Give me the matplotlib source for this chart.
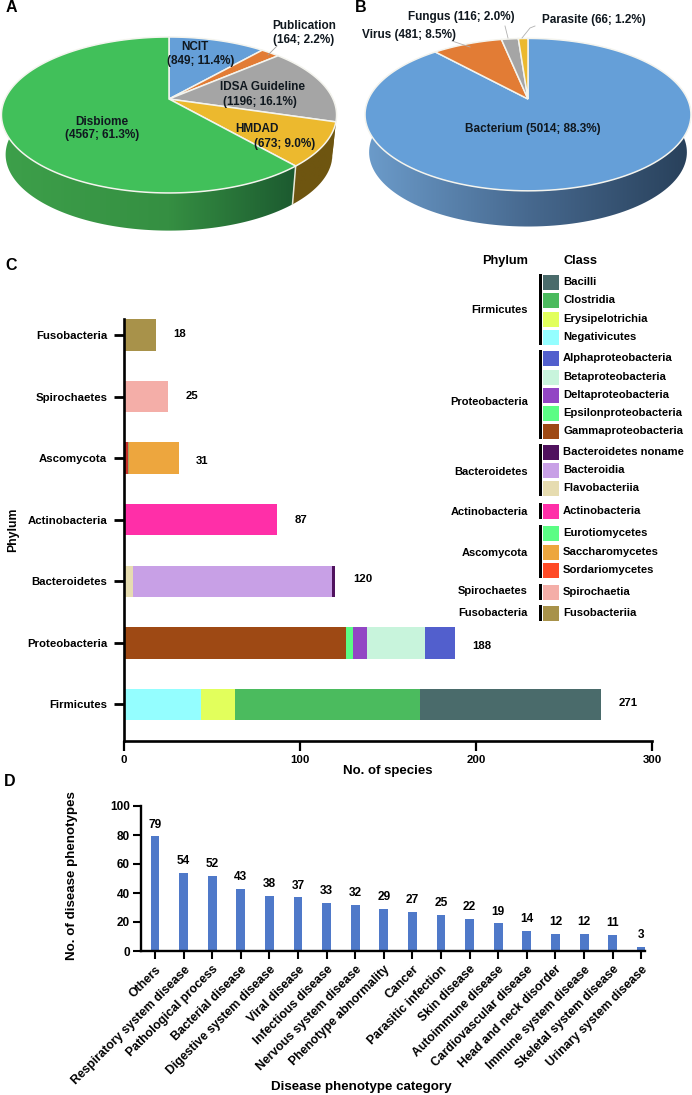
import numpy as np
import matplotlib
matplotlib.use("Agg")
import matplotlib.pyplot as plt
from matplotlib.colors import LinearSegmentedColormap
from matplotlib.patches import Polygon, Rectangle

plt.rcParams["font.family"] = ["Liberation Sans", "DejaVu Sans"]
plt.rcParams["font.weight"] = "bold"

# panel A
source_names = ["NCIT", "Publication", "IDSA Guideline", "HMDAD", "Disbiome"]
source_values = [849, 164, 1196, 673, 4567]
# panel B
pathogen_names = ["Bacterium", "Virus", "Fungus", "Parasite"]
pathogen_values = [5014, 481, 116, 66]

# panel C, one list per phylum, left to right
phyla = ["Firmicutes", "Proteobacteria", "Bacteroidetes", "Actinobacteria",
         "Ascomycota", "Spirochaetes", "Fusobacteria"]
phylum_totals = [271, 188, 120, 87, 31, 25, 18]
firmicutes = [("Negativicutes", 44), ("Erysipelotrichia", 19), ("Clostridia", 105), ("Bacilli", 103)]
proteobacteria = [("Gammaproteobacteria", 126), ("Epsilonproteobacteria", 4), ("Deltaproteobacteria", 8),
                  ("Betaproteobacteria", 33), ("Alphaproteobacteria", 17)]
bacteroidetes = [("Flavobacteriia", 5), ("Bacteroidia", 113), ("Bacteroidetes noname", 2)]
actinobacteria = [("Actinobacteria", 87)]
ascomycota = [("Sordariomycetes", 2), ("Eurotiomycetes", 1), ("Saccharomycetes", 28)]
spirochaetes = [("Spirochaetia", 25)]
fusobacteria = [("Fusobacteriia", 18)]
stacks = [firmicutes, proteobacteria, bacteroidetes, actinobacteria, ascomycota, spirochaetes, fusobacteria]

class_colors = {
    "Bacilli": "#4a6b6b", "Clostridia": "#4bbb5e", "Erysipelotrichia": "#e2ff5c", "Negativicutes": "#94feff",
    "Alphaproteobacteria": "#525fcd", "Betaproteobacteria": "#c8f4dc", "Deltaproteobacteria": "#9246c4",
    "Epsilonproteobacteria": "#5bfd85", "Gammaproteobacteria": "#9e4914", "Bacteroidetes noname": "#50125e",
    "Bacteroidia": "#c8a0e6", "Flavobacteriia": "#e6dcb0", "Actinobacteria": "#ff2fa8",
    "Eurotiomycetes": "#a8a060", "Saccharomycetes": "#eda63e", "Sordariomycetes": "#c8302a",
    "Spirochaetia": "#f4aea8", "Fusobacteriia": "#a8924a",
}
legend_swatch_override = {"Eurotiomycetes": "#5bfd85", "Sordariomycetes": "#ff4a26"}

# legend, top to bottom
legend_groups = [
    ("Firmicutes", ["Bacilli", "Clostridia", "Erysipelotrichia", "Negativicutes"]),
    ("Proteobacteria", ["Alphaproteobacteria", "Betaproteobacteria", "Deltaproteobacteria",
                        "Epsilonproteobacteria", "Gammaproteobacteria"]),
    ("Bacteroidetes", ["Bacteroidetes noname", "Bacteroidia", "Flavobacteriia"]),
    ("Actinobacteria", ["Actinobacteria"]),
    ("Ascomycota", ["Eurotiomycetes", "Saccharomycetes", "Sordariomycetes"]),
    ("Spirochaetes", ["Spirochaetia"]),
    ("Fusobacteria", ["Fusobacteriia"]),
]

# panel D
disease_names = ["Others", "Respiratory system disease", "Pathological process", "Bacterial disease",
                 "Digestive system disease", "Viral disease", "Infectious disease", "Nervous system disease",
                 "Phenotype abnormality", "Cancer", "Parasitic infection", "Skin disease", "Autoimmune disease",
                 "Cardiovascular disease", "Head and neck disorder", "Immune system disease",
                 "Skeletal system disease", "Urinary system disease"]
disease_counts = [79, 54, 52, 43, 38, 37, 33, 32, 29, 27, 25, 22, 19, 14, 12, 12, 11, 3]

W, H = 692, 1095
fig = plt.figure(figsize=(W / 100, H / 100), dpi=100)
page = fig.add_axes([0, 0, 1, 1], zorder=5)
page.set_xlim(0, W)
page.set_ylim(H, 0)
page.axis("off")


def axes_px(left, top, right, bottom):
    return fig.add_axes([left / W, 1 - bottom / H, (right - left) / W, (bottom - top) / H])


def project(theta, cx, cy, c, a, k=0.205, scale=1.0, drop=0):
    # tilted disc: theta runs clockwise from twelve o'clock
    xx, yy = np.sin(theta), np.cos(theta)
    w = 1 + k * yy
    return cx + scale * c * xx / w, cy - scale * a * yy / w + drop


def pie3d(values, colors, side_ramps, cx, cy, c, a, drop, scale):
    edges = 2 * np.pi * np.concatenate([[0], np.cumsum(values)]) / np.sum(values)
    # side wall first
    xs_all = project(np.linspace(0, 2 * np.pi, 400), cx, cy, c, a)[0]
    for i in range(len(values)):
        t0, t1 = max(edges[i], np.pi / 2 - 0.25), min(edges[i + 1], 3 * np.pi / 2 + 0.25)
        if t1 <= t0:
            continue
        t = np.linspace(t0, t1, 120)
        x1, y1 = project(t, cx, cy, c, a)
        x2, y2 = project(t, cx, cy, c, a, scale=scale, drop=drop)
        wall = Polygon(np.r_[np.c_[x1, y1], np.c_[x2, y2][::-1]], closed=True, fc="none", ec="none")
        page.add_patch(wall)
        ramp = LinearSegmentedColormap.from_list("side", side_ramps[i])
        im = page.imshow(np.linspace(0, 1, 256)[None, :], cmap=ramp, aspect="auto",
                         extent=[xs_all.min(), xs_all.max(), cy + 150, cy - 80], zorder=1)
        im.set_clip_path(wall)
        # light seam between the wall pieces
        if 0.75 * np.pi < edges[i + 1] < 3 * np.pi / 2:
            page.plot([x1[-1], x2[-1]], [y1[-1], y2[-1]], color="#e8e8d8", lw=1.1, zorder=2)
    page.set_xlim(0, W)
    page.set_ylim(H, 0)
    # top face
    for i in range(len(values)):
        t = np.linspace(edges[i], edges[i + 1], 160)
        x, y = project(t, cx, cy, c, a)
        page.add_patch(Polygon(np.r_[[[cx, cy]], np.c_[x, y]], closed=True, fc=colors[i],
                               ec="#f4f4ee", lw=1.1, zorder=3))


# panel A
pie3d(source_values, ["#659fd8", "#e27c35", "#a5a5a5", "#ecb92e", "#41c05a"],
      [["#6e5510", "#6e5510"], ["#6e5510", "#6e5510"], ["#6e5510", "#6e5510"],
       ["#6e5510", "#6e5510"], ["#3da04a", "#358f42", "#14492a"]],
      169, 99, 164, 74.7, 40, 0.975)
# panel B
pie3d(pathogen_values, ["#659fd8", "#e27c35", "#a5a5a5", "#ecb92e"],
      [["#6c9ccb", "#47698f", "#28405a"], ["#28405a", "#28405a"], ["#28405a", "#28405a"], ["#28405a", "#28405a"]],
      528, 99, 159.5, 73, 38, 0.975)

ptxt = dict(fontsize=8.5, color="#10181f", ha="center", va="center", zorder=6)
total_a = sum(source_values)
page.text(195, 47, f"{source_names[0]}", **ptxt)
page.text(201, 61, f"({source_values[0]}; {100 * source_values[0] / total_a:.1f}%)", **ptxt)
page.text(304, 26, source_names[1], **ptxt)
page.text(304, 40, f"({source_values[1]}; {100 * source_values[1] / total_a:.1f}%)", **ptxt)
page.text(263, 87, source_names[2], **ptxt)
page.text(260, 102, f"({source_values[2]}; {100 * source_values[2] / total_a:.1f}%)", **ptxt)
page.text(257, 129, source_names[3], **ptxt)
page.text(285, 144, f"({source_values[3]}; {100 * source_values[3] / total_a:.1f}%)", **ptxt)
page.text(102, 122, source_names[4], **ptxt)
page.text(102, 135, f"({source_values[4]}; {100 * source_values[4] / total_a:.1f}%)", **ptxt)
page.plot([268, 277], [55, 46], color="#a0a0a0", lw=0.6, zorder=4)

total_b = sum(pathogen_values)
pct_b = [100 * v / total_b for v in pathogen_values]
page.text(533, 129, f"{pathogen_names[0]} ({pathogen_values[0]}; {pct_b[0]:.1f}%)", **ptxt)
page.text(409, 35, f"{pathogen_names[1]} ({pathogen_values[1]}; {pct_b[1]:.1f}%)", **ptxt)
page.text(461, 17, f"{pathogen_names[2]} ({pathogen_values[2]}; {pct_b[2]:.1f}%)", **ptxt)
page.text(594, 20, f"{pathogen_names[3]} ({pathogen_values[3]}; {pct_b[3]:.1f}%)", **ptxt)
page.plot([452, 470], [41, 47], color="#b0b0b0", lw=0.6, zorder=4)
page.plot([505, 508], [26, 38], color="#b0b0b0", lw=0.6, zorder=4)
page.plot([522, 530, 535], [38, 28, 26], color="#b0b0b0", lw=0.6, zorder=4)

for letter, x, y in [("A", 11, 8), ("B", 361, 7), ("C", 11, 266), ("D", 10, 781)]:
    page.text(x, y, letter, fontsize=11.5, color="black", ha="center", va="center")

# panel C
ax_c = axes_px(124, 319, 652, 741)
total_nudge = [1, -3, 2, 0, -3, 1, 1]  # px, the printed numbers do not sit exactly on the bar centre
for pos, stack in enumerate(stacks):
    left = 0
    for name, value in stack:
        ax_c.barh(pos, value, left=left, height=0.51, color=class_colors[name], linewidth=0)
        left += value
    ax_c.text(phylum_totals[pos] + 10, pos + total_nudge[pos] / 61.6, str(phylum_totals[pos]),
              fontsize=8.2, va="center", ha="left")
ax_c.set_xlim(0, 300)
ax_c.set_ylim(-0.593, 6.26)
ax_c.set_yticks(range(len(phyla)), phyla)
ax_c.set_xticks([0, 100, 200, 300])
ax_c.tick_params(axis="y", width=2, length=7, labelsize=8.2, pad=5)
ax_c.tick_params(axis="x", width=1.6, length=7, labelsize=8.2, pad=3)
ax_c.set_xlabel("No. of species", fontsize=9.5, fontweight="bold", labelpad=0)
ax_c.set_ylabel("Phylum", fontsize=8.8, fontweight="bold", labelpad=6)
for side in ["top", "right"]:
    ax_c.spines[side].set_visible(False)
for side in ["left", "bottom"]:
    ax_c.spines[side].set_linewidth(1.9)

# legend of panel C, drawn on the page layer
page.text(505, 261, "Phylum", fontsize=9.2, ha="center", va="center")
page.text(563, 261, "Class", fontsize=9.2, ha="left", va="center")
row_y = [282, 300, 319, 337, 358, 377, 395, 413, 431, 452, 470, 488, 511, 533, 552, 570, 592, 613]
phylum_label_y = [310, 402, 472, 512, 553, 591, 613]
row = 0
for (phylum, members), label_y in zip(legend_groups, phylum_label_y):
    y0, y1 = row_y[row], row_y[row + len(members) - 1]
    page.add_patch(Rectangle((539, y0 - 8), 2.6, y1 - y0 + 16, fc="black", ec="none"))
    page.text(528, label_y, phylum, fontsize=8, ha="right", va="center")
    for name in members:
        y = row_y[row]
        swatch = legend_swatch_override.get(name, class_colors[name])
        page.add_patch(Rectangle((543, y - 7.5), 16, 15, fc=swatch, ec="none"))
        page.text(563, y, name, fontsize=8.1, ha="left", va="center")
        row += 1

# panel D
ax_d = axes_px(141, 806, 645, 951)
pos = np.arange(len(disease_names))
ax_d.bar(pos, disease_counts, width=0.31, color="#4f79c9", linewidth=0)
for i, v in zip(pos, disease_counts):
    ax_d.text(i, v + 4, str(v), fontsize=8.6, ha="center", va="bottom")
ax_d.set_xlim(-0.49, 17.13)
ax_d.set_ylim(0, 100)
ax_d.set_yticks(range(0, 101, 20))
ax_d.set_xticks(pos)
ax_d.set_xticklabels(disease_names, rotation=45, ha="right", rotation_mode="anchor", fontsize=8.8)
ax_d.tick_params(axis="x", width=1.5, length=6, pad=3)
ax_d.tick_params(axis="y", width=1.5, length=6, labelsize=8.5, pad=2)
ax_d.set_ylabel("No. of disease phenotypes", fontsize=9.6, fontweight="bold")
ax_d.yaxis.set_label_coords((78 - 141) / 504, (951 - 876) / 145)
ax_d.set_xlabel("Disease phenotype category", fontsize=9.6, fontweight="bold", va="center")
ax_d.xaxis.set_label_coords((361 - 141) / 504, (951 - 1087) / 145)
for side in ["top", "right"]:
    ax_d.spines[side].set_visible(False)
for side in ["left", "bottom"]:
    ax_d.spines[side].set_linewidth(1.7)

fig.savefig("out.png", dpi=100)
